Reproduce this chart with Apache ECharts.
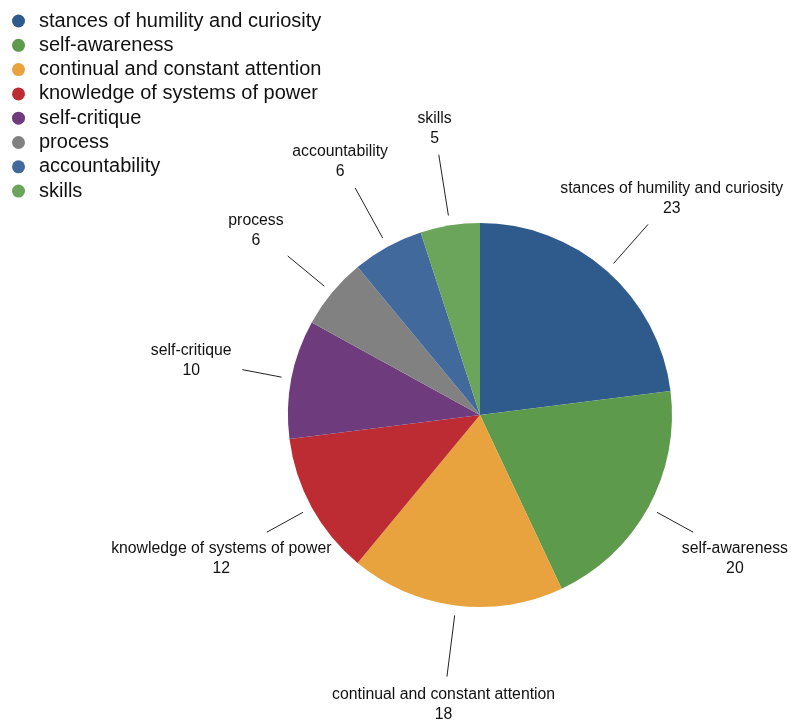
<!DOCTYPE html>
<html>
<head>
<meta charset="utf-8">
<script src="https://cdn.jsdelivr.net/npm/echarts@6/dist/echarts.min.js"></script>
<style>html,body{margin:0;padding:0;background:#fff;}#main{width:791px;height:723px;}</style>
</head>
<body>
<div id="main"></div>
<script>
const categories = ['stances of humility and curiosity','self-awareness','continual and constant attention','knowledge of systems of power','self-critique','process','accountability','skills'];
const values = [23, 20, 18, 12, 10, 6, 6, 5];
const colors = ['#2f5a8c','#5e9a4b','#e8a33e','#bc2c32','#6e3b7d','#818181','#41699c','#6ba45b'];

const CX = 480, CY = 415, R = 192, GAP = 10, W = 791;

const chart = echarts.init(document.getElementById('main'));
chart.setOption({
  animation: false,
  color: colors,
  legend: {
    orient: 'vertical', left: 12, top: 11, padding: 0,
    icon: 'circle', itemWidth: 13, itemHeight: 13, itemGap: 4.3,
    textStyle: { fontFamily: 'Liberation Sans, Arial, sans-serif', fontSize: 20, lineHeight: 20, color: '#111', padding: [0, 0, 0, 9] },
    data: categories
  },
  series: [{
    type: 'pie',
    center: [CX, CY],
    radius: [0, R],
    startAngle: 90,
    clockwise: true,
    avoidLabelOverlap: false,
    data: categories.map((c, i) => ({ name: c, value: values[i] })),
    label: {
      show: true, position: 'outside',
      formatter: '{b}\n{c}',
      fontFamily: 'Liberation Sans, Arial, sans-serif',
      fontSize: 15.8, lineHeight: 20, color: '#111'
    },
    labelLine: { show: true, length: 40, length2: 0, lineStyle: { color: '#222', width: 1 } },
    labelLayout: function (p) {
      const s0 = p.labelLinePoints[0];
      const dx = s0[0] - CX, dy = s0[1] - CY;
      const r = Math.hypot(dx, dy);
      const ux = dx / r, uy = dy / r;
      const ay = Math.abs(uy), ax = Math.abs(ux);
      const start = [CX + ux * (R + GAP), CY + uy * (R + GAP)];
      const L = 40 + 22 * Math.max(0, (ay - 0.45) / 0.55);
      const end = [start[0] + ux * L, start[1] + uy * L];
      const w = p.labelRect.width / 2, h = p.labelRect.height / 2;
      const t = Math.min(ax > 1e-6 ? w / ax : 1e9, ay > 1e-6 ? h / ay : 1e9) + 6 + 5 * ax;
      let x = end[0] + ux * t;
      x = Math.min(x, W - 3 - w);
      return {
        x: x, y: end[1] + uy * t + 1,
        align: 'center', verticalAlign: 'middle',
        labelLinePoints: [start, end, end]
      };
    }
  }]
});
</script>
</body>
</html>
